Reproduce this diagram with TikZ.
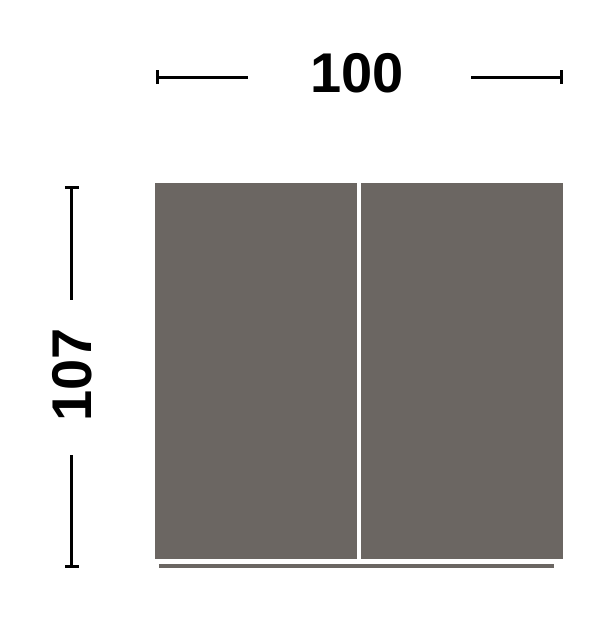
\documentclass[tikz,border=0pt]{standalone}
\usepackage{fontspec}
\setmainfont{Liberation Sans}
\usetikzlibrary{arrows.meta}
\definecolor{panelgrey}{HTML}{6B6662}
\tikzset{
	dimline/.style={line width=1.5pt},
	dimlabel/.style={font=\fontsize{28}{28}\selectfont\bfseries, inner sep=0pt}
}
\begin{document}
\begin{tikzpicture}[x=0.5pt,y=-0.5pt]
				\useasboundingbox (0,0) rectangle (615,618);
				% cabinet front
				\fill [panelgrey] (155,183) rectangle (563,559);
				\draw [white, line width=2pt] (359,183) -- (359,559);
				\draw [panelgrey, line width=2pt] (159,565.5) -- (554,565.5);
				% width
				\node [dimlabel] (width) at (357,73) {100};
				\coordinate (wl) at (156,77);
				\coordinate (wlend) at (248,77);
				\coordinate (wr) at (563,77);
				\coordinate (wrend) at (471,77);
				\draw [dimline, {Bar[width=7pt]}-] (wl) -- (wlend);
				\draw [dimline, {Bar[width=7pt]}-] (wr) -- (wrend);
				% height
				\node [dimlabel, rotate=90] (height) at (72,375) {107};
				\coordinate (ht) at (72,186);
				\coordinate (htend) at (72,300);
				\coordinate (hb) at (72,568);
				\coordinate (hbend) at (72,455);
				\draw [dimline, {Bar[width=7pt]}-] (ht) -- (htend);
				\draw [dimline, {Bar[width=7pt]}-] (hb) -- (hbend);
			\end{tikzpicture}
\end{document}
